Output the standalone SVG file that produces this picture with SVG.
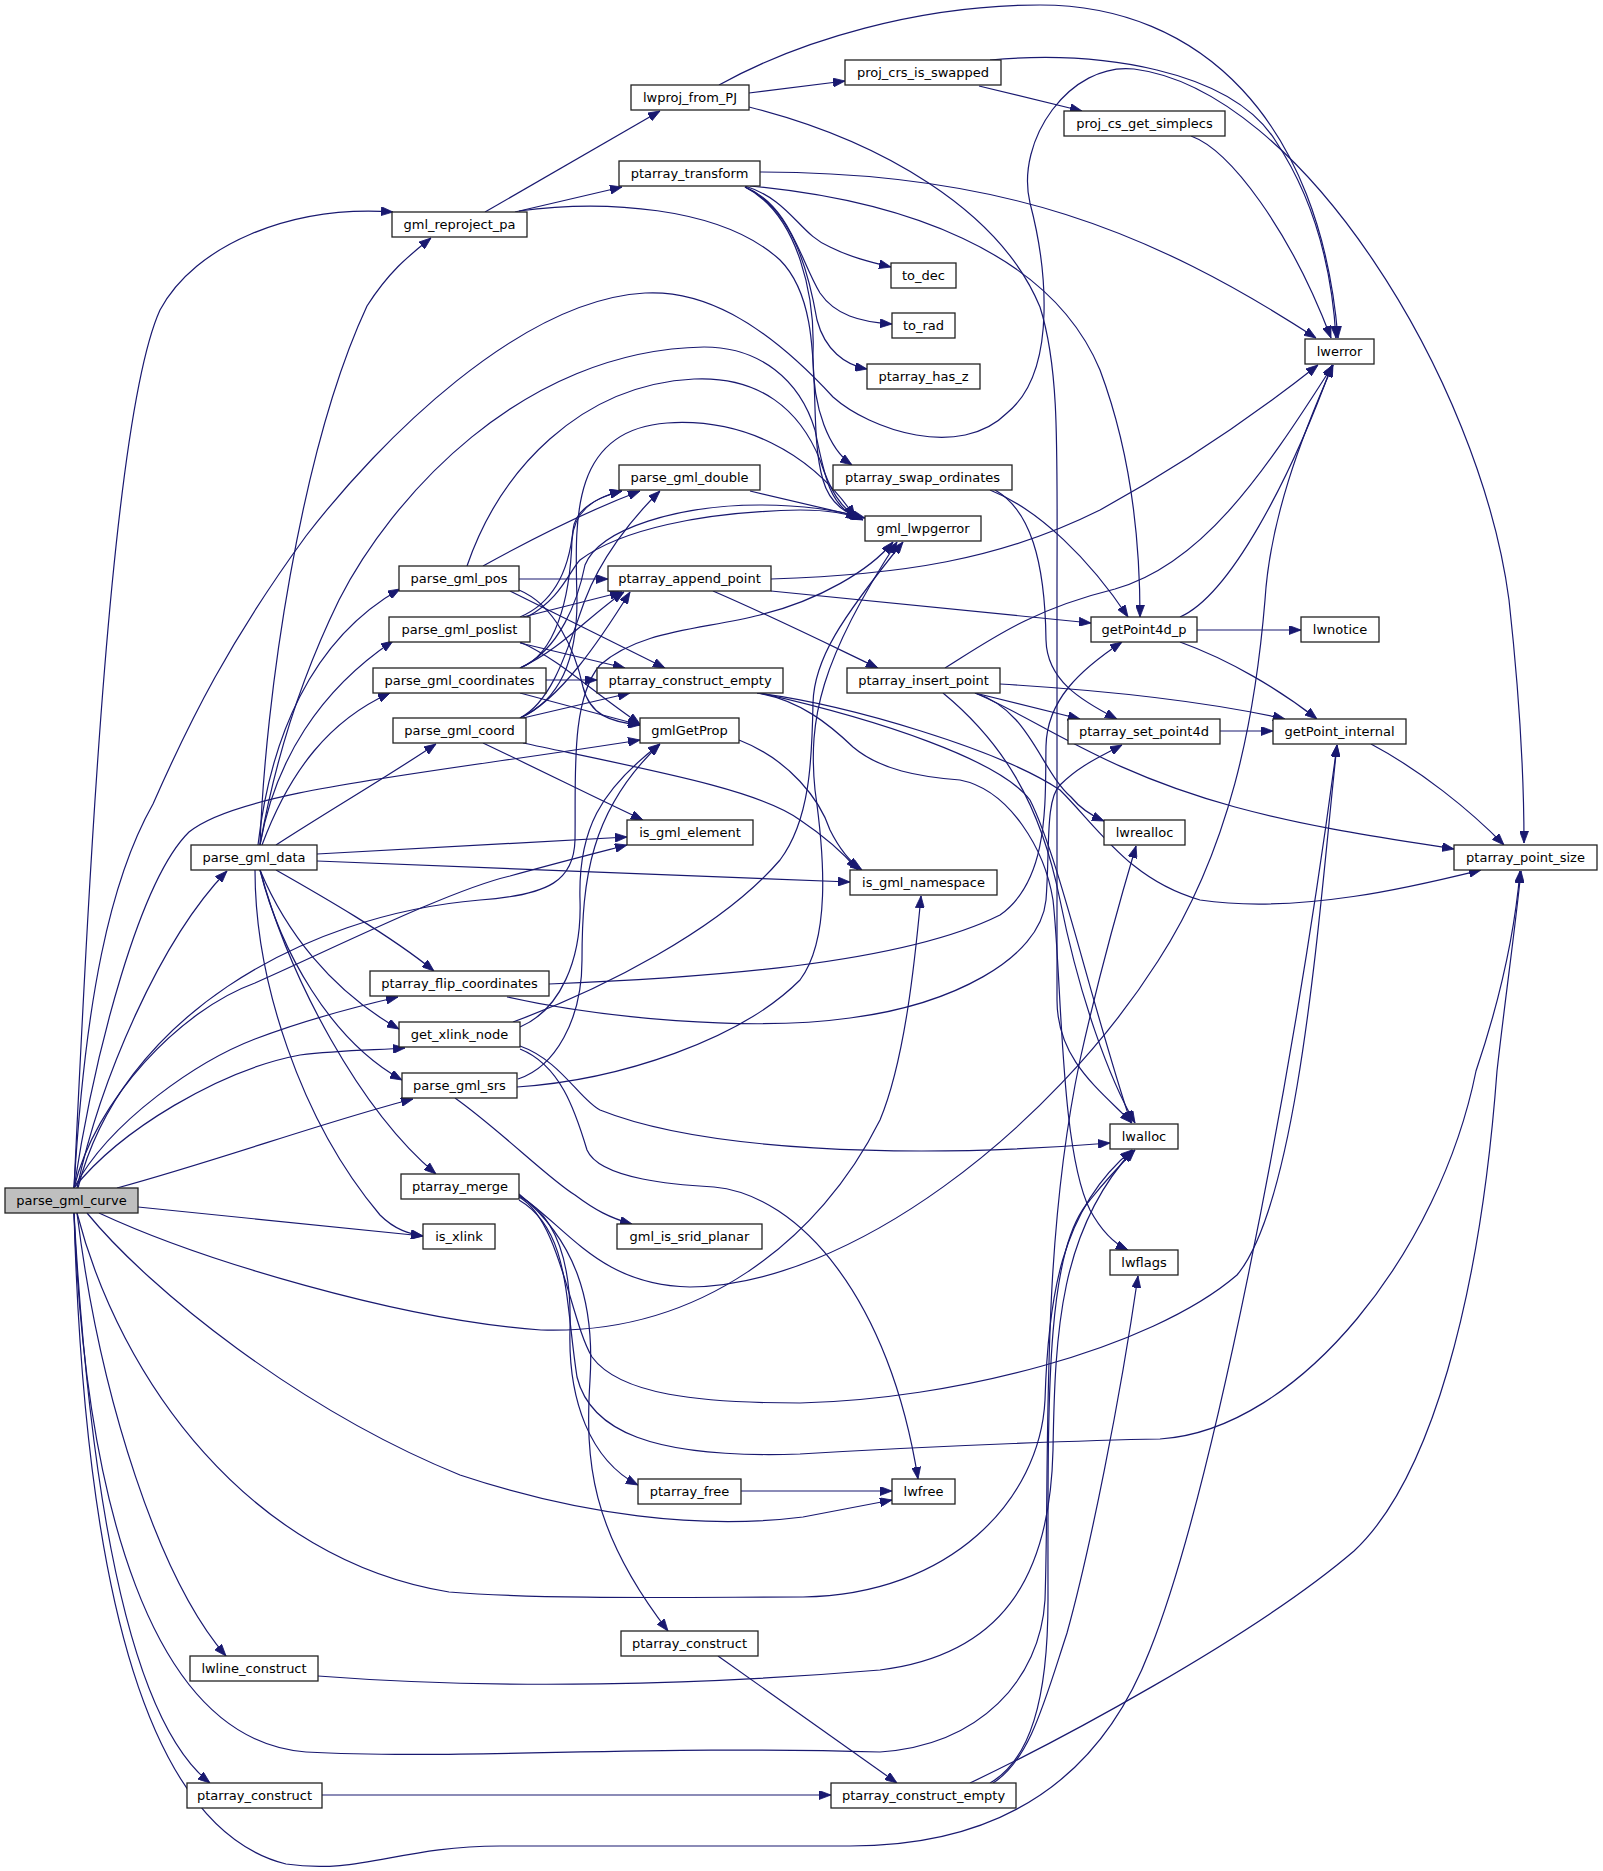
<svg xmlns="http://www.w3.org/2000/svg" width="1603" height="1871" viewBox="0 0 1603 1871">
<style>
.n rect{fill:#fff;stroke:#222;stroke-width:1.3}
.n.root rect{fill:#bfbfbf}
.n text{font-family:"DejaVu Sans","Liberation Sans",sans-serif;font-size:13px;text-anchor:middle;fill:#000}
#edges path{fill:none;stroke:#191970;stroke-width:1.2;marker-end:url(#a)}
</style>
<defs>
<marker id="a" markerUnits="userSpaceOnUse" markerWidth="12" markerHeight="9" refX="12" refY="4.5" orient="auto">
<path d="M0,0 L12,4.5 L0,9 z" fill="#191970" stroke="#191970" stroke-width="0.8"/>
</marker>
</defs>
<rect width="1603" height="1871" fill="#fff"/>
<g id="edges">
<!-- parse_gml_curve -->
<path d="M74,1188 C88,900 110,420 160,310 C195,245 290,205 393,212"/>
<path d="M77,1188 C100,1080 160,940 227,871"/>
<path d="M74,1188 C85,1000 110,880 153,804 C190,720 230,640 306,536 C380,440 520,300 645,293 C700,290 760,318 833,397 C870,430 960,460 1007,413 C1060,370 1045,260 1030,203 C1015,140 1070,62 1134,69 C1300,90 1480,380 1509,600 C1520,700 1524,780 1524,843"/>
<path d="M74,1188 C95,1050 140,880 189,832 C240,790 420,775 640,740"/>
<path d="M74,1188 C95,1100 180,1010 255,983 C330,950 450,890 510,876 C560,862 600,852 627,845"/>
<path d="M74,1188 C110,1120 200,1060 255,1039 C300,1022 350,1008 398,997"/>
<path d="M74,1188 C120,1130 220,1070 300,1055 C340,1050 380,1050 405,1048"/>
<path d="M117,1188 C220,1160 330,1120 413,1099"/>
<path d="M138,1207 L423,1236"/>
<path d="M99,1213 C200,1260 400,1320 541,1330 C700,1335 820,1240 880,1120 C905,1060 915,960 921,896"/>
<path d="M87,1213 C150,1290 300,1410 460,1475 C580,1515 700,1530 803,1517 L892,1500"/>
<path d="M77,1213 C120,1380 250,1560 449,1592 C550,1600 700,1597 803,1597 C950,1595 1040,1500 1045,1400 C1048,1300 1060,1210 1132,1150"/>
<path d="M77,1213 C100,1400 160,1580 226,1656"/>
<path d="M74,1213 C85,1500 150,1740 306,1752 C450,1760 650,1745 880,1752 C980,1745 1040,1680 1045,1600 C1050,1450 1040,1250 1080,1060 C1100,970 1120,900 1136,846"/>
<path d="M74,1213 C90,1500 130,1720 210,1783"/>
<path d="M74,1213 C85,1600 150,1830 286,1864 C360,1875 400,1846 500,1846 L850,1846 C1000,1846 1100,1780 1150,1650 C1210,1500 1290,1100 1337,745"/>
<path d="M78,1188 C120,1020 300,915 480,900 C550,895 574,880 575,840 C576,780 570,700 600,665 C640,630 700,630 760,615 C820,600 870,570 893,542"/>
<!-- parse_gml_data -->
<path d="M260,845 C265,700 300,450 367,306 C390,270 410,255 431,238"/>
<path d="M258,845 C270,740 310,640 400,589"/>
<path d="M260,845 C275,760 320,690 393,641"/>
<path d="M262,845 C290,770 330,720 390,693"/>
<path d="M276,845 C330,810 390,775 436,744"/>
<path d="M260,845 C275,760 300,680 339,600 C390,500 520,350 704,347 C760,347 800,380 815,430 C825,480 830,505 858,519"/>
<path d="M317,854 L627,837"/>
<path d="M317,861 L850,882"/>
<path d="M276,870 C320,895 390,935 434,971"/>
<path d="M260,870 C285,930 330,990 399,1029"/>
<path d="M260,870 C280,950 330,1040 402,1080"/>
<path d="M260,870 C290,980 360,1110 436,1174"/>
<path d="M255,870 C255,980 300,1120 380,1215 C395,1230 410,1234 423,1236"/>
<!-- gml_reproject_pa -->
<path d="M485,212 L660,111"/>
<path d="M515,212 L622,187"/>
<path d="M519,211 C600,200 720,205 780,260 C830,310 805,420 823,480 C830,505 848,514 862,519"/>
<!-- lwproj_from_PJ -->
<path d="M749,93 L845,81"/>
<path d="M719,85 C800,40 920,5 1040,5 C1200,5 1320,120 1338,338"/>
<path d="M749,107 C880,140 1000,210 1040,307 C1060,370 1057,450 1057,600 L1057,1000 C1057,1060 1100,1090 1132,1123"/>
<!-- proj_crs_is_swapped / proj_cs_get_simplecs -->
<path d="M979,86 L1082,111"/>
<path d="M990,60 C1100,50 1230,70 1275,140 C1315,200 1332,270 1336,338"/>
<path d="M1191,136 C1230,150 1290,230 1331,338"/>
<!-- ptarray_transform -->
<path d="M760,172 C1000,172 1150,230 1316,338"/>
<path d="M750,186 C900,200 1050,250 1100,370 C1130,450 1140,540 1140,617"/>
<path d="M745,186 C790,200 800,235 830,247 C850,257 870,262 891,267"/>
<path d="M745,187 C790,205 800,260 820,293 C835,315 860,322 892,324"/>
<path d="M745,187 C795,210 810,280 817,320 C825,350 845,365 867,369"/>
<path d="M745,187 C800,215 815,300 813,353 C812,410 830,450 852,465"/>
<!-- parse_gml_pos -->
<path d="M467,566 C500,470 580,385 694,379 C760,376 800,410 820,460 C830,490 840,508 860,519"/>
<path d="M483,566 C530,540 590,510 640,491"/>
<path d="M519,579 L608,579"/>
<path d="M510,591 L665,668"/>
<path d="M519,590 C555,605 575,650 583,687 C590,715 610,722 640,725"/>
<!-- parse_gml_poslist -->
<path d="M527,617 C560,600 570,570 580,560 C620,530 700,512 800,510 C830,510 850,514 863,520"/>
<path d="M520,617 C560,600 570,560 573,530 C575,510 595,498 622,491"/>
<path d="M523,617 L622,592"/>
<path d="M520,643 L625,668"/>
<path d="M520,642 C560,660 590,690 640,724"/>
<!-- parse_gml_coordinates -->
<path d="M520,668 C560,650 578,600 585,565 C600,528 680,505 760,505 C800,505 840,510 862,518"/>
<path d="M520,668 C555,655 570,600 572,540 C574,510 595,497 622,491"/>
<path d="M520,668 C560,650 590,615 624,592"/>
<path d="M546,680 L597,680"/>
<path d="M520,693 L640,725"/>
<!-- parse_gml_coord -->
<path d="M520,718 C560,700 577,660 577,600 C575,520 570,430 667,423 C740,418 810,450 855,517"/>
<path d="M520,718 C555,700 570,640 585,600 C600,560 630,520 660,491"/>
<path d="M520,718 C560,700 600,640 630,592"/>
<path d="M523,718 L630,693"/>
<path d="M483,743 C540,770 600,800 643,820"/>
<path d="M523,743 C650,770 760,790 800,820 C830,840 845,855 858,870"/>
<!-- parse_gml_double -->
<path d="M750,491 L865,518"/>
<!-- gmlGetProp -->
<path d="M739,740 C790,760 820,800 830,830 C840,850 850,862 862,870"/>
<!-- ptarray_append_point -->
<path d="M771,579 C900,575 1000,560 1100,510 C1200,455 1280,395 1318,365"/>
<path d="M771,591 L1091,623"/>
<path d="M713,591 C780,620 840,650 878,668"/>
<!-- ptarray_insert_point -->
<path d="M945,668 C990,640 1030,610 1115,589 C1200,565 1260,480 1333,365"/>
<path d="M1000,684 C1100,690 1200,700 1285,719"/>
<path d="M975,693 L1080,719"/>
<path d="M975,693 C1030,710 1040,770 1071,797 C1080,808 1090,815 1104,821"/>
<path d="M975,693 C1040,720 1100,770 1235,807 C1320,830 1400,840 1454,849"/>
<path d="M943,693 C1000,740 1040,800 1060,900 C1080,1000 1110,1080 1135,1123"/>
<!-- ptarray_construct_empty (upper) -->
<path d="M760,693 C880,720 1000,760 1030,800 C1060,860 1090,1000 1131,1123"/>
<path d="M757,693 C800,700 830,725 853,747 C880,770 920,777 960,780 C1010,790 1045,850 1053,900 C1062,980 1060,1150 1090,1210 C1102,1232 1115,1244 1128,1250"/>
<path d="M757,693 C850,705 1000,750 1060,790 C1100,830 1130,880 1200,900 C1300,915 1420,885 1481,870"/>
<!-- ptarray_swap_ordinates -->
<path d="M990,490 C1040,510 1090,560 1128,617"/>
<path d="M995,490 C1030,510 1045,560 1046,640 C1047,680 1080,700 1117,719"/>
<!-- getPoint4d_p / set / internal -->
<path d="M1197,630 L1301,630"/>
<path d="M1180,642 C1230,660 1280,690 1317,719"/>
<path d="M1180,617 C1230,595 1290,480 1332,365"/>
<path d="M1220,731 L1273,731"/>
<path d="M1371,744 C1420,770 1470,810 1504,845"/>
<!-- ptarray_flip_coordinates -->
<path d="M549,984 C700,978 900,965 1000,915 C1050,880 1045,800 1046,746 C1047,700 1080,670 1122,642"/>
<path d="M507,997 C600,1018 750,1032 850,1018 C950,1005 1040,960 1046,900 C1050,850 1045,800 1060,785 C1080,765 1100,757 1122,745"/>
<!-- get_xlink_node -->
<path d="M520,1027 C560,1010 582,960 580,900 C578,830 600,790 660,744"/>
<path d="M513,1022 C600,990 720,930 780,860 C810,820 812,760 813,703 C814,660 840,620 903,542"/>
<path d="M520,1046 C560,1060 580,1100 600,1110 C700,1150 900,1160 1110,1143"/>
<path d="M520,1049 C560,1065 575,1110 587,1150 C600,1180 680,1185 714,1187 C800,1195 890,1300 918,1479"/>
<!-- parse_gml_srs -->
<path d="M518,1079 C555,1067 582,1020 582,960 C582,880 590,810 660,744"/>
<path d="M517,1087 C620,1080 740,1040 800,980 C830,940 825,860 815,790 C808,720 820,660 897,542"/>
<path d="M455,1098 C500,1130 550,1180 575,1195 C595,1210 610,1218 632,1224"/>
<!-- ptarray_merge -->
<path d="M519,1195 C570,1230 600,1285 690,1287 C850,1285 1050,1130 1158,961 C1230,850 1255,720 1265,600 C1270,520 1300,440 1333,365"/>
<path d="M519,1197 C560,1220 570,1320 592,1357 C620,1395 700,1403 800,1403 C950,1400 1150,1350 1237,1275 C1300,1200 1320,900 1337,745"/>
<path d="M519,1200 C570,1230 565,1300 577,1377 C590,1430 650,1459 800,1454 C950,1445 1100,1440 1160,1439 C1300,1430 1440,1250 1476,1071 C1500,1000 1515,930 1520,871"/>
<path d="M519,1196 C555,1215 572,1260 570,1330 C568,1400 590,1460 638,1485"/>
<path d="M519,1194 C575,1240 595,1300 590,1380 C585,1460 590,1530 668,1631"/>
<!-- bottom -->
<path d="M741,1491 L892,1491"/>
<path d="M318,1676 C500,1690 700,1685 880,1670 C1000,1655 1050,1580 1053,1450 C1055,1330 1060,1230 1133,1150"/>
<path d="M322,1795 L831,1795"/>
<path d="M718,1656 L897,1783"/>
<path d="M990,1783 C1030,1760 1048,1700 1048,1600 C1048,1400 1045,1250 1090,1200 C1110,1175 1125,1160 1135,1150"/>
<path d="M993,1783 C1030,1760 1045,1700 1067,1633 C1090,1550 1120,1400 1138,1276"/>
<path d="M970,1783 C1050,1745 1250,1640 1354,1551 C1430,1480 1480,1300 1497,1071 C1505,1000 1515,930 1521,871"/>
</g>
<g id="n_parse_gml_curve" class="n root"><rect x="5" y="1188" width="133" height="25"/><text x="71.5" y="1205">parse_gml_curve</text></g>
<g id="n_gml_reproject_pa" class="n"><rect x="392" y="212" width="135" height="25"/><text x="459.5" y="229">gml_reproject_pa</text></g>
<g id="n_lwproj_from_PJ" class="n"><rect x="631" y="85" width="118" height="25"/><text x="690" y="102">lwproj_from_PJ</text></g>
<g id="n_proj_crs_is_swapped" class="n"><rect x="845" y="60" width="156" height="25"/><text x="923" y="77">proj_crs_is_swapped</text></g>
<g id="n_proj_cs_get_simplecs" class="n"><rect x="1064" y="111" width="161" height="25"/><text x="1144.5" y="128">proj_cs_get_simplecs</text></g>
<g id="n_ptarray_transform" class="n"><rect x="619" y="161" width="141" height="25"/><text x="689.5" y="178">ptarray_transform</text></g>
<g id="n_to_dec" class="n"><rect x="891" y="263" width="65" height="25"/><text x="923.5" y="280">to_dec</text></g>
<g id="n_to_rad" class="n"><rect x="892" y="313" width="63" height="25"/><text x="923.5" y="330">to_rad</text></g>
<g id="n_lwerror" class="n"><rect x="1305" y="339" width="69" height="25"/><text x="1339.5" y="356">lwerror</text></g>
<g id="n_ptarray_has_z" class="n"><rect x="867" y="364" width="113" height="25"/><text x="923.5" y="381">ptarray_has_z</text></g>
<g id="n_parse_gml_double" class="n"><rect x="619" y="465" width="141" height="25"/><text x="689.5" y="482">parse_gml_double</text></g>
<g id="n_ptarray_swap_ordinates" class="n"><rect x="833" y="465" width="179" height="25"/><text x="922.5" y="482">ptarray_swap_ordinates</text></g>
<g id="n_gml_lwpgerror" class="n"><rect x="865" y="516" width="116" height="25"/><text x="923" y="533">gml_lwpgerror</text></g>
<g id="n_parse_gml_pos" class="n"><rect x="399" y="566" width="120" height="25"/><text x="459" y="583">parse_gml_pos</text></g>
<g id="n_ptarray_append_point" class="n"><rect x="608" y="566" width="163" height="25"/><text x="689.5" y="583">ptarray_append_point</text></g>
<g id="n_parse_gml_poslist" class="n"><rect x="389" y="617" width="141" height="25"/><text x="459.5" y="634">parse_gml_poslist</text></g>
<g id="n_getPoint4d_p" class="n"><rect x="1091" y="617" width="106" height="25"/><text x="1144" y="634">getPoint4d_p</text></g>
<g id="n_lwnotice" class="n"><rect x="1301" y="617" width="78" height="25"/><text x="1340" y="634">lwnotice</text></g>
<g id="n_parse_gml_coordinates" class="n"><rect x="373" y="668" width="173" height="25"/><text x="459.5" y="685">parse_gml_coordinates</text></g>
<g id="n_ptarray_construct_empty_1" class="n"><rect x="597" y="668" width="186" height="25"/><text x="690" y="685">ptarray_construct_empty</text></g>
<g id="n_ptarray_insert_point" class="n"><rect x="847" y="668" width="153" height="25"/><text x="923.5" y="685">ptarray_insert_point</text></g>
<g id="n_parse_gml_coord" class="n"><rect x="393" y="718" width="133" height="25"/><text x="459.5" y="735">parse_gml_coord</text></g>
<g id="n_gmlGetProp" class="n"><rect x="640" y="718" width="99" height="25"/><text x="689.5" y="735">gmlGetProp</text></g>
<g id="n_ptarray_set_point4d" class="n"><rect x="1068" y="719" width="152" height="25"/><text x="1144" y="736">ptarray_set_point4d</text></g>
<g id="n_getPoint_internal" class="n"><rect x="1273" y="719" width="133" height="25"/><text x="1339.5" y="736">getPoint_internal</text></g>
<g id="n_is_gml_element" class="n"><rect x="627" y="820" width="126" height="25"/><text x="690" y="837">is_gml_element</text></g>
<g id="n_lwrealloc" class="n"><rect x="1104" y="820" width="81" height="25"/><text x="1144.5" y="837">lwrealloc</text></g>
<g id="n_parse_gml_data" class="n"><rect x="191" y="845" width="126" height="25"/><text x="254" y="862">parse_gml_data</text></g>
<g id="n_ptarray_point_size" class="n"><rect x="1454" y="845" width="143" height="25"/><text x="1525.5" y="862">ptarray_point_size</text></g>
<g id="n_is_gml_namespace" class="n"><rect x="850" y="870" width="147" height="25"/><text x="923.5" y="887">is_gml_namespace</text></g>
<g id="n_ptarray_flip_coordinates" class="n"><rect x="370" y="971" width="179" height="25"/><text x="459.5" y="988">ptarray_flip_coordinates</text></g>
<g id="n_get_xlink_node" class="n"><rect x="399" y="1022" width="121" height="25"/><text x="459.5" y="1039">get_xlink_node</text></g>
<g id="n_parse_gml_srs" class="n"><rect x="402" y="1073" width="115" height="25"/><text x="459.5" y="1090">parse_gml_srs</text></g>
<g id="n_lwalloc" class="n"><rect x="1110" y="1124" width="68" height="25"/><text x="1144" y="1141">lwalloc</text></g>
<g id="n_ptarray_merge" class="n"><rect x="401" y="1174" width="118" height="25"/><text x="460" y="1191">ptarray_merge</text></g>
<g id="n_is_xlink" class="n"><rect x="423" y="1224" width="72" height="25"/><text x="459" y="1241">is_xlink</text></g>
<g id="n_gml_is_srid_planar" class="n"><rect x="617" y="1224" width="145" height="25"/><text x="689.5" y="1241">gml_is_srid_planar</text></g>
<g id="n_lwflags" class="n"><rect x="1110" y="1250" width="68" height="25"/><text x="1144" y="1267">lwflags</text></g>
<g id="n_ptarray_free" class="n"><rect x="638" y="1479" width="103" height="25"/><text x="689.5" y="1496">ptarray_free</text></g>
<g id="n_lwfree" class="n"><rect x="892" y="1479" width="63" height="25"/><text x="923.5" y="1496">lwfree</text></g>
<g id="n_ptarray_construct_2" class="n"><rect x="621" y="1631" width="137" height="25"/><text x="689.5" y="1648">ptarray_construct</text></g>
<g id="n_lwline_construct" class="n"><rect x="190" y="1656" width="128" height="25"/><text x="254" y="1673">lwline_construct</text></g>
<g id="n_ptarray_construct_1" class="n"><rect x="187" y="1783" width="135" height="25"/><text x="254.5" y="1800">ptarray_construct</text></g>
<g id="n_ptarray_construct_empty_2" class="n"><rect x="831" y="1783" width="185" height="25"/><text x="923.5" y="1800">ptarray_construct_empty</text></g>
</svg>
